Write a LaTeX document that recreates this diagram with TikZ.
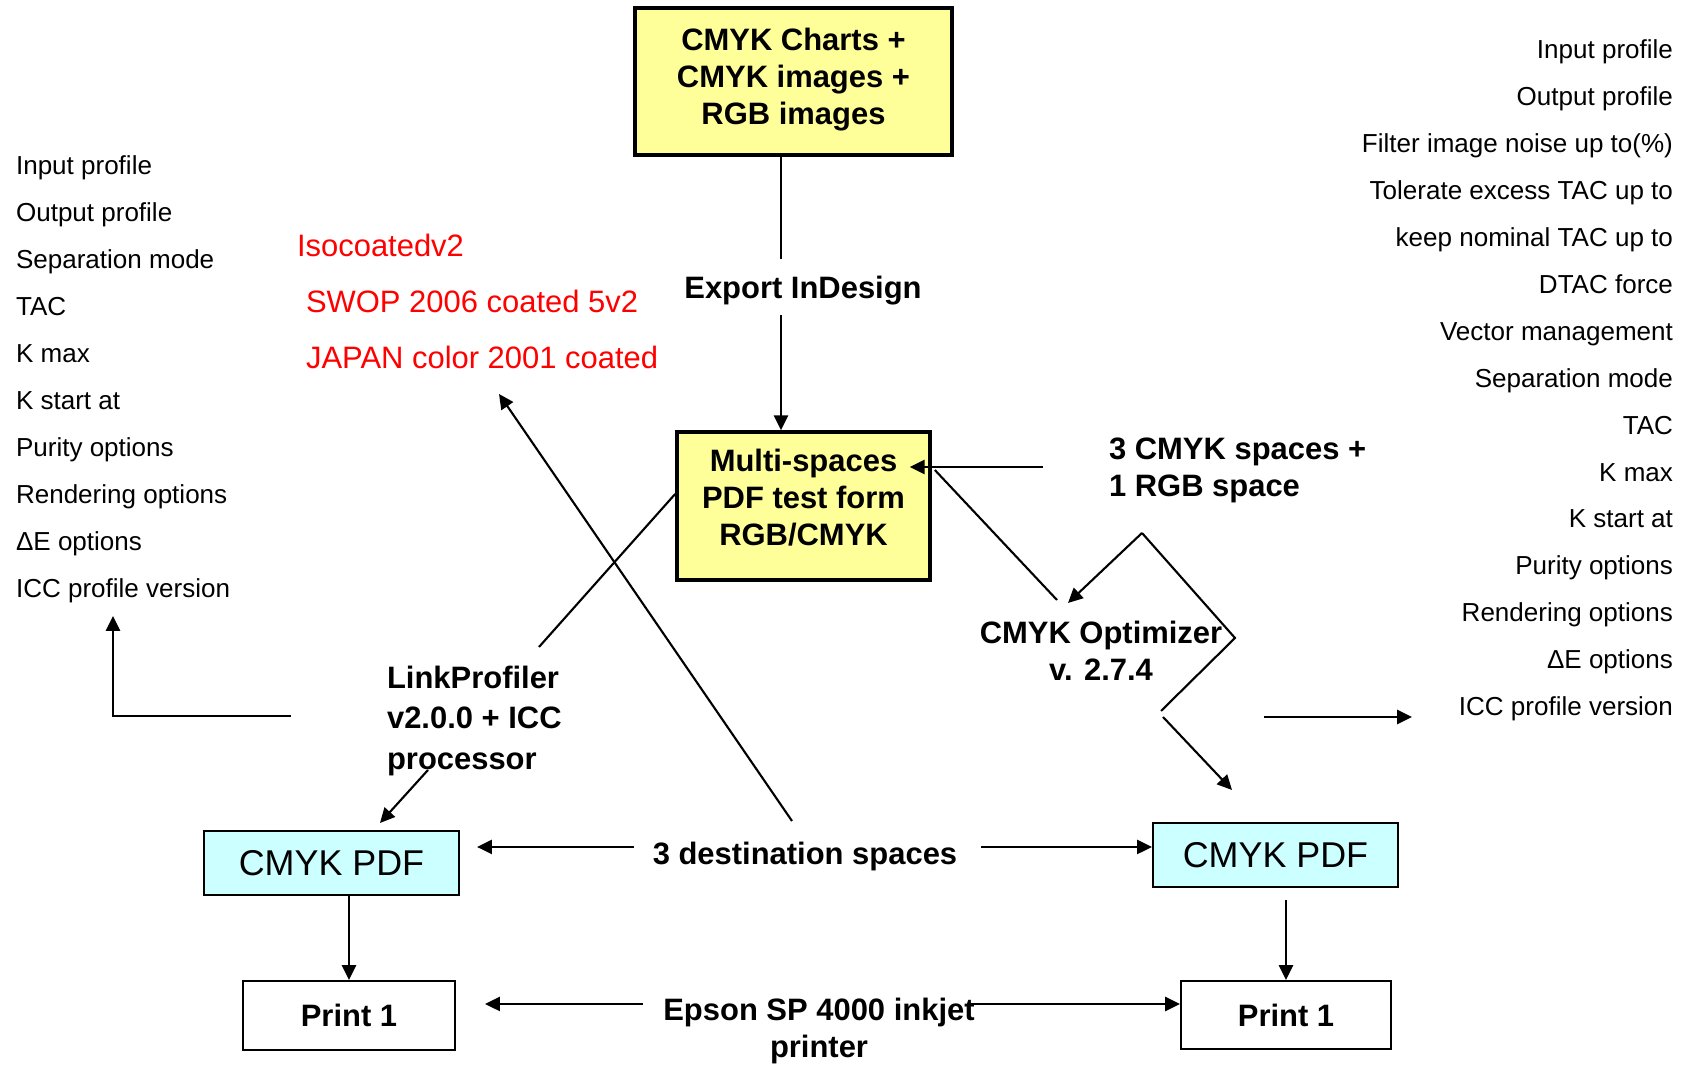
\documentclass[tikz,border=0pt]{standalone}
\usepackage{fontspec}
\setmainfont{Liberation Sans}
\usetikzlibrary{arrows.meta}
\usetikzlibrary{calc}
\definecolor{boxyellow}{HTML}{FFFF99}
\definecolor{boxcyan}{HTML}{CCFFFF}
\definecolor{profred}{HTML}{FF0000}

\begin{document}
\begin{tikzpicture}[x=0.01cm,y=-0.01cm,->,>={Triangle[length=4.2pt,width=4pt]},line width=0.6pt,
    yellow box/.style={draw,line width=1pt,fill=boxyellow,align=center,font=\bfseries\fontsize{8.8}{10.5}\selectfont},
    cyan box/.style={draw,line width=0.6pt,fill=boxcyan,font=\fontsize{10.2}{12}\selectfont},
    print box/.style={draw,line width=0.6pt,fill=white,font=\bfseries\fontsize{8.8}{10.5}\selectfont},
    label node/.style={inner sep=0pt,align=center,font=\bfseries\fontsize{8.8}{10.5}\selectfont},
    red label/.style={inner sep=0pt,anchor=base west,text=profred,font=\fontsize{8.8}{10.5}\selectfont},
    list item/.style={inner sep=0pt,font=\fontsize{7.4}{9}\selectfont}]
  \useasboundingbox (0,0) rectangle (1690,1068);

  % boxes
  \node[yellow box,minimum width=3.17cm,minimum height=1.47cm,text depth=3pt] (charts) at (793.5,81.5) {CMYK Charts +\\CMYK images +\\RGB images};
  \node[yellow box,minimum width=2.53cm,minimum height=1.48cm,text depth=4.8pt] (testform) at (803.5,506) {Multi-spaces\\PDF test form\\RGB/CMYK};
  \node[cyan box,minimum width=2.55cm,minimum height=0.64cm] (cmykL) at (331.5,863) {CMYK PDF};
  \node[cyan box,minimum width=2.45cm,minimum height=0.64cm] (cmykR) at (1275.5,855) {CMYK PDF};
  \node[print box,minimum width=2.12cm,minimum height=0.69cm] (printL) at (349,1015.5) {Print 1};
  \node[print box,minimum width=2.10cm,minimum height=0.68cm] (printR) at (1286,1015) {Print 1};

  % labels
  \node[label node] (export) at (803,291) {Export InDesign};
  \node[label node,align=left,anchor=west] (spaces) at (1108,470) {3 CMYK spaces +\\1 RGB space};
  \node[label node] (optimizer) at (1101,651) {CMYK Optimizer\\v. 2.7.4};
  \node[label node,align=left,anchor=west,font=\bfseries\fontsize{8.8}{11.4}\selectfont] (linkprof) at (386,721) {LinkProfiler\\v2.0.0 + ICC\\processor};
  \node[label node] (dest) at (805,857) {3 destination spaces};
  \node[label node] (epson) at (819,1031) {Epson SP 4000 inkjet\\printer};

  % destination profiles
  \node[red label] (iso) at (296,257) {Isocoatedv2};
  \node[red label] (swop) at (305,313) {SWOP 2006 coated 5v2};
  \node[red label] (japan) at (305,369) {JAPAN color 2001 coated};

  % option lists
  \foreach \txt [count=\i] in {Input profile,Output profile,Separation mode,TAC,K max,K start at,Purity options,Rendering options,ΔE options,ICC profile version}
    \node[list item,anchor=base west] (lopt\i) at (15,{175+46.9*(\i-1)}) {\txt};
  \foreach \txt [count=\i] in {Input profile,Output profile,Filter image noise up to(\%),Tolerate excess TAC up to,keep nominal TAC up to,DTAC force,Vector management,Separation mode,TAC,K max,K start at,Purity options,Rendering options,ΔE options,ICC profile version}
    \node[list item,anchor=base east] (ropt\i) at (1674,{59+46.9*(\i-1)}) {\txt};

  % export InDesign
  \coordinate (exp top) at (781,259);
  \coordinate (exp bot) at (781,315);
  \draw[-] (charts.south -| exp top) -- (exp top);
  \draw (exp bot) -- (testform.north -| exp bot);

  % spaces into test form
  \coordinate (sp tail) at (1043,467);
  \draw (sp tail) -- ($(testform.east |- sp tail)+(-22,0)$);

  % CMYK Optimizer branch
  \coordinate (opt in) at (1057,600);
  \draw[-] ($(testform.east)+(3,-36)$) -- (opt in);
  \coordinate (zz top) at (1142,533);
  \coordinate (zz right) at (1235,638);
  \coordinate (zz low) at (1161,711);
  \coordinate (opt tip) at (1068,603);
  \draw (zz top) -- (opt tip);
  \draw[-] (zz top) -- (zz right) -- (zz low);
  \coordinate (opt out) at (1163,717);
  \coordinate (cmykR in) at (1232,790);
  \draw (opt out) -- (cmykR in);
  \coordinate (rl tail) at (1264,717);
  \coordinate (rl tip) at (1412,717);
  \draw (rl tail) -- (rl tip);

  % LinkProfiler branch
  \coordinate (lp in) at (539,647);
  \draw[-] ($(testform.west)+(0,-12)$) -- (lp in);
  \coordinate (lp out) at (428,770);
  \coordinate (lp tip) at (380,823);
  \draw (lp out) -- (lp tip);
  \coordinate (ll tail) at (291,716);
  \coordinate (ll tip) at (113,616);
  \draw (ll tail) -| (ll tip);

  % destination spaces
  \coordinate (dest up) at (792,821);
  \coordinate (red tip) at (499,394);
  \draw (dest up) -- (red tip);
  \coordinate (dest l) at (634,847);
  \coordinate (dest r) at (981,847);
  \draw (dest l) -- ($(cmykL.east)+(17,-16)$);
  \draw (dest r) -- (cmykR.west |- dest r);

  % pdf to print
  \draw (cmykL.south -| printL.north) -- (printL.north);
  \draw ($(cmykR.south -| printR.north)+(0,12)$) -- (printR.north);
  \coordinate (ep l) at (643,1004);
  \coordinate (ep r) at (970,1004);
  \draw (ep l) -- ($(printL.east |- ep l)+(29,0)$);
  \draw (ep r) -- (printR.west |- ep r);
\end{tikzpicture}
\end{document}
